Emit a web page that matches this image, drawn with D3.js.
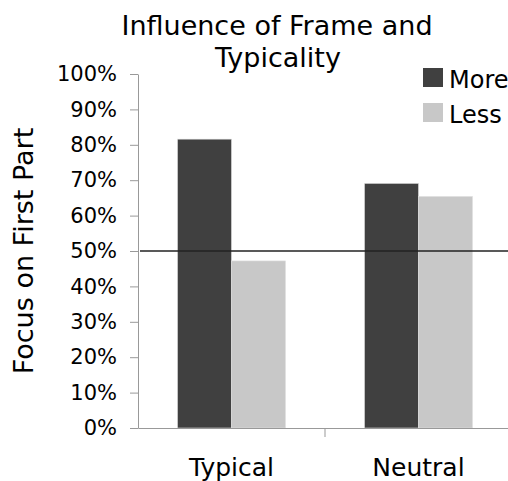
<!DOCTYPE html>
<html>
<head>
<meta charset="utf-8">
<script src="https://cdn.jsdelivr.net/npm/d3@7"></script>
<style>
  body { margin: 0; background: #fff; }
  text { font-family: "DejaVu Sans", Verdana, sans-serif; fill: #000; }
</style>
</head>
<body>
<div id="chart"></div>
<script>
// data
var categories = ["Typical", "Neutral"];
var seriesNames = ["More", "Less"];
var moreValues = [0.816, 0.691];
var lessValues = [0.472, 0.654];
var yTicks = [0, 0.1, 0.2, 0.3, 0.4, 0.5, 0.6, 0.7, 0.8, 0.9, 1.0];
var referenceLine = 0.5;
var colors = ["#404040", "#c8c8c8"];

var width = 508, height = 481;
var margin = {top: 74, right: 0, bottom: 53, left: 138};
var innerW = 374, innerH = height - margin.top - margin.bottom;

var svg = d3.select("#chart").append("svg")
  .attr("width", width)
  .attr("height", height);
var g = svg.append("g")
  .attr("transform", "translate(" + margin.left + "," + margin.top + ")");

var x0 = d3.scaleBand().domain(categories).range([0, innerW]).paddingInner(0).paddingOuter(0);
var x1 = d3.scaleBand().domain(seriesNames).range([39.5, x0.bandwidth() - 39.5]);
var y = d3.scaleLinear().domain([0, 1]).range([innerH, 0]);

var table = categories.map(function(c, i) {
  return {cat: c, values: [moreValues[i], lessValues[i]]};
});

// bars
var grp = g.selectAll(".cat")
  .data(table)
  .enter().append("g")
    .attr("transform", function(d) { return "translate(" + x0(d.cat) + ",0)"; });
grp.selectAll("rect")
  .data(function(d) { return d.values.map(function(v, j) { return {name: seriesNames[j], v: v, j: j}; }); })
  .enter().append("rect")
    .attr("x", function(d) { return x1(d.name); })
    .attr("width", x1.bandwidth())
    .attr("y", function(d) { return y(d.v); })
    .attr("height", function(d) { return innerH - y(d.v); })
    .attr("fill", function(d) { return colors[d.j]; })
    .attr("stroke", "#e0e0e0")
    .attr("stroke-width", 0.6);

// y axis
var yAxis = g.append("g")
  .call(d3.axisLeft(y).tickValues(yTicks).tickFormat(d3.format(".0%")).tickSize(8).tickSizeOuter(0));
yAxis.select(".domain").attr("stroke", "#999");
yAxis.selectAll(".tick line").attr("stroke", "#999");
yAxis.selectAll(".tick text")
  .attr("x", -21)
  .style("font-size", "21px")
  .style("font-family", "DejaVu Sans, Verdana, sans-serif")
  .attr("fill", "#000");

// x axis
var xAxis = g.append("g")
  .attr("transform", "translate(0," + innerH + ")")
  .call(d3.axisBottom(x0).tickSize(0).tickSizeOuter(0));
xAxis.select(".domain").attr("stroke", "#999");
xAxis.selectAll(".tick text")
  .attr("y", 48)
  .attr("dy", "0")
  .style("font-size", "25px")
  .style("font-family", "DejaVu Sans, Verdana, sans-serif")
  .attr("fill", "#000");
// tick between categories
g.append("line")
  .attr("x1", x0("Neutral")).attr("x2", x0("Neutral"))
  .attr("y1", innerH).attr("y2", innerH + 9)
  .attr("stroke", "#999");

// 50% line
g.append("line")
  .attr("x1", 2).attr("x2", innerW)
  .attr("y1", y(referenceLine)).attr("y2", y(referenceLine))
  .attr("stroke", "#222")
  .attr("stroke-width", 1.5);

// title
var title = svg.append("text")
  .attr("text-anchor", "middle")
  .style("font-size", "27px");
title.append("tspan").attr("x", 277).attr("y", 35).text("Influence of Frame and");
title.append("tspan").attr("x", 278).attr("y", 67).text("Typicality");

// y label
svg.append("text")
  .attr("transform", "translate(33," + 251 + ") rotate(-90)")
  .attr("text-anchor", "middle")
  .style("font-size", "27px")
  .text("Focus on First Part");

// legend
var legend = svg.append("g").attr("transform", "translate(423,68)");
seriesNames.forEach(function(name, i) {
  legend.append("rect")
    .attr("x", 0).attr("y", i * 35)
    .attr("width", 20).attr("height", 19)
    .attr("fill", colors[i]);
  legend.append("text")
    .attr("x", 26).attr("y", i * 35 + 20)
    .style("font-size", "24px")
    .text(name);
});
</script>
</body>
</html>
